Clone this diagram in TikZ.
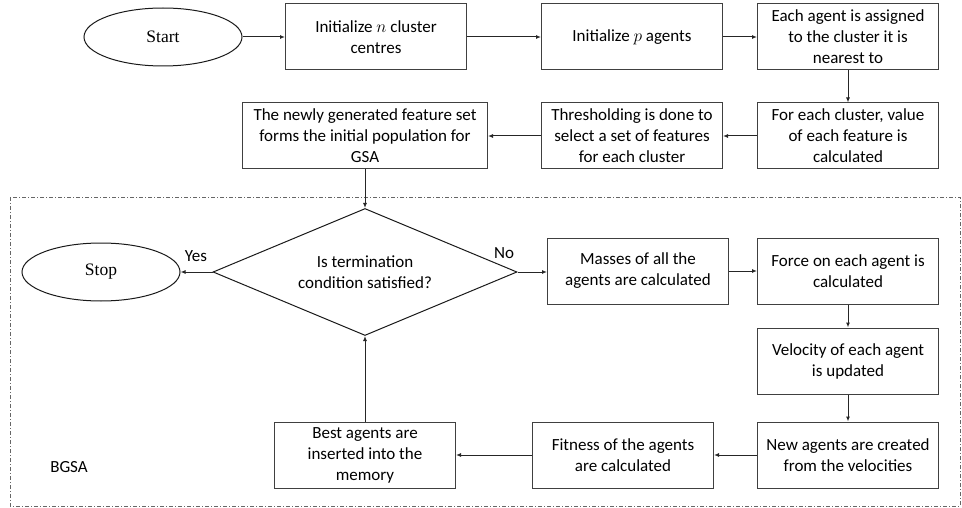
\documentclass[tikz,border=0pt]{standalone}
\usepackage{fontspec}
\setmainfont{Carlito}
\newfontfamily\serifff{Liberation Serif}
\usetikzlibrary{shapes.geometric,arrows.meta}
\begin{document}
\begin{tikzpicture}[x=1pt,y=-1pt,
  every node/.style={font=\fontsize{17}{21}\selectfont, text=black},
  box/.style={draw=black!75, line width=1pt, minimum width=181pt, minimum height=66pt, align=center, inner sep=2pt},
  term/.style={draw=black!90, line width=1pt, ellipse, minimum width=158pt, minimum height=58pt, font=\serifff\fontsize{17.5}{20}\selectfont},
  dec/.style={draw=black!90, line width=1pt, diamond, aspect=2.4, minimum width=304pt, minimum height=127pt, inner sep=0pt, align=center},
  arr/.style={draw=black!85, line width=1pt, -{Latex[length=5pt,width=4pt]}},
  lbl/.style={font=\fontsize{17}{20}\selectfont}]
\useasboundingbox (0,0) rectangle (962,508);
\draw[black!60, line width=0.8pt, dash pattern=on 4pt off 2pt on 1pt off 2pt] (10,197) rectangle (960,506);
\node[term] (start) at (163,37) {Start};
\node[box] (initn) at (376,37) {Initialize $n$ cluster\\centres};
\node[box] (initp) at (632,37) {Initialize $p$ agents};
\node[box] (each) at (848,37) {Each agent is assigned\\to the cluster it is\\nearest to};
\node[box] (forc) at (848,136) {For each cluster, value\\of each feature is\\calculated};
\node[box] (thresh) at (632,136) {Thresholding is done to\\select a set of features\\for each cluster};
\node[box, minimum width=245pt] (newly) at (365,136) {The newly generated feature set\\forms the initial population for\\GSA};
\node[dec] (dia) at (365,272) {Is termination\\condition satisfied?};
\node[term] (stop) at (101,272) {Stop};
\node[box] (masses) at (638,271) {Masses of all the\\agents are calculated};
\node[box] (force) at (848,271) {Force on each agent is\\calculated};
\node[box] (vel) at (848,361) {Velocity of each agent\\is updated};
\node[box] (newag) at (848,455) {New agents are created\\from the velocities};
\node[box] (fit) at (623,455) {Fitness of the agents\\are calculated};
\node[box] (best) at (365,455) {Best agents are\\inserted into the\\memory};
\node[lbl] (bgsa) at (69,467) {BGSA};
\node[lbl] (yes) at (196,256) {Yes};
\node[lbl] (no) at (504,253) {No};
\draw[arr] (start) -- (initn);
\draw[arr] (initn) -- (initp);
\draw[arr] (initp) -- (each);
\draw[arr] (each) -- (forc);
\draw[arr] (forc) -- (thresh);
\draw[arr] (thresh) -- (newly);
\draw[arr] (newly) -- (dia.north);
\draw[arr] (dia.west) -- (stop);
\draw[arr] (dia.east) -- (masses.west |- dia.east);
\draw[arr] (masses) -- (force);
\draw[arr] (force) -- (vel);
\draw[arr] (vel) -- (newag);
\draw[arr] (newag) -- (fit);
\draw[arr] (fit) -- (best);
\draw[arr] (best) -- (dia.south);
\end{tikzpicture}
\end{document}
